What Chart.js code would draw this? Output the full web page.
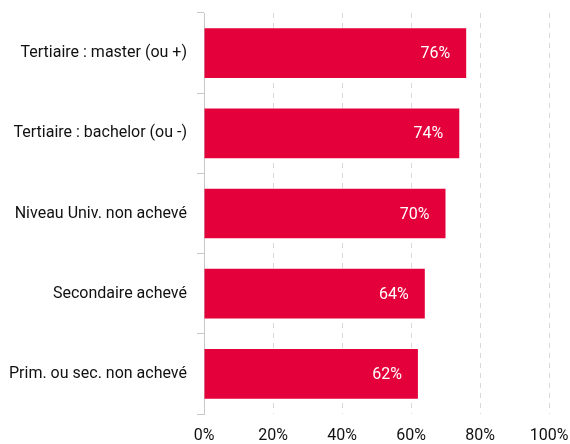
<!DOCTYPE html>
<html>
<head>
<meta charset="utf-8">
<script src="https://cdn.jsdelivr.net/npm/chart.js@4"></script>
<style>
  html, body { margin: 0; padding: 0; background: #fff; }
  #wrap { width: 570px; height: 444px; }
</style>
</head>
<body>
<div id="wrap"><canvas id="myChart"></canvas></div>
<script>
const categories = [
    'Tertiaire : master (ou +)',
    'Tertiaire : bachelor (ou -)',
    'Niveau Univ. non achevé',
    'Secondaire achevé',
    'Prim. ou sec. non achevé'
];
const values = [76, 74, 70, 64, 62];
const xTicks = [0, 20, 40, 60, 80, 100];

// white value labels at the end of each bar
const barLabels = {
    id: 'barLabels',
    afterDatasetsDraw(chart) {
        const ctx = chart.ctx;
        const meta = chart.getDatasetMeta(0);
        ctx.save();
        ctx.fillStyle = '#ffffff';
        ctx.font = '16px Roboto';
        ctx.textAlign = 'right';
        ctx.textBaseline = 'middle';
        meta.data.forEach((bar, i) => {
            ctx.fillText(values[i] + '%', bar.x - 16, bar.y + 1);
        });
        ctx.restore();
    }
};

new Chart(document.getElementById('myChart'), {
    type: 'bar',
    data: {
        labels: categories,
        datasets: [{
            data: values,
            backgroundColor: '#e4003a',
            borderWidth: 0,
            categoryPercentage: 0.62,
            barPercentage: 1
        }]
    },
    options: {
        indexAxis: 'y',
        responsive: true,
        maintainAspectRatio: false,
        animation: false,
        layout: { padding: { top: 13, right: 21, left: 0, bottom: 0 } },
        plugins: {
            legend: { display: false },
            tooltip: { enabled: false }
        },
        scales: {
            x: {
                min: 0,
                max: 100,
                afterBuildTicks: (scale) => { scale.ticks = xTicks.map(v => ({ value: v })); },
                afterFit: (scale) => {
                    scale.height = 30;
                    scale.paddingLeft = 0;
                    scale.paddingRight = 0;
                },
                border: { display: false, dash: [5, 5] },
                grid: { color: '#d9d9d9', drawTicks: false },
                ticks: {
                    padding: 12,
                    color: '#111',
                    font: { family: 'Roboto', size: 16 },
                    callback: (v) => v + '%'
                }
            },
            y: {
                afterFit: (scale) => {
                    scale.width = 204;
                    scale.paddingTop = 0;
                    scale.paddingBottom = 0;
                },
                border: { display: true, color: '#c8c8c8' },
                grid: { drawOnChartArea: false, color: '#c8c8c8', tickLength: 7 },
                ticks: {
                    padding: 10,
                    color: '#111',
                    font: { family: 'Roboto', size: 16 }
                }
            }
        }
    },
    plugins: [barLabels]
});
</script>
</body>
</html>
